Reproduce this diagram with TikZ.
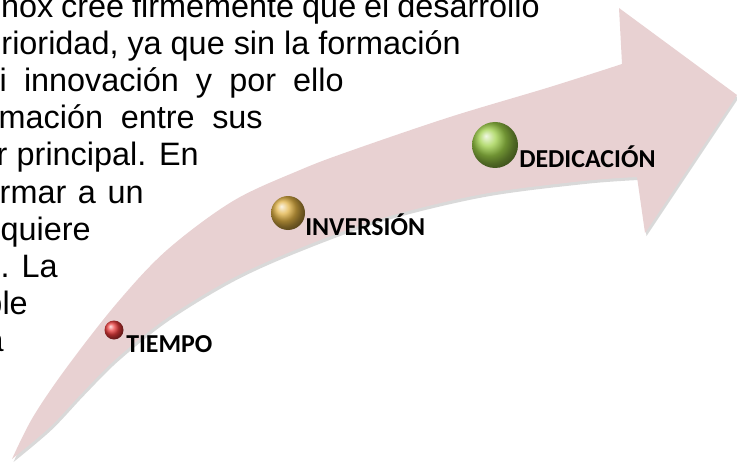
\documentclass[tikz,border=0pt]{standalone}
\usepackage{fontspec}
\setmainfont{Liberation Sans}
\newfontfamily\labelfont{Carlito}
\usepackage{xcolor}

\definecolor{arrowpink}{RGB}{232,209,210}
\definecolor{tiempored}{RGB}{235,60,60}
\definecolor{inversiongold}{RGB}{225,178,68}
\definecolor{dedicaciongreen}{RGB}{158,208,72}

% outline of the curved arrow (pixel units)
\newcommand{\swooshpath}{(12,459) -- plot[smooth, tension=0.55] coordinates {(12,459) (33,417) (67,367) (117,303) (167,250) (233,201) (300,170) (350,151) (450,117) (550,87) (622,64)} -- (619,8) -- (737,95) -- (645,233) -- (637,177) -- plot[smooth, tension=0.55] coordinates {(637,177) (583,181) (483,194) (383,218) (300,248) (233,278) (167,318) (117,358) (83,392) (50,427) (12,459)} -- cycle}

\begin{document}
\begin{tikzpicture}[x=0.75pt, y=-0.75pt]
    \useasboundingbox (0,0) rectangle (737,463);

    % Define styles for text, spheres and labels
    \tikzstyle{textline} = [anchor=base east, inner sep=0pt, font=\fontsize{24.3}{28}\selectfont]
    \tikzstyle{sphere} = [circle, inner sep=0pt, shading=ball]
    \tikzstyle{stagelabel} = [anchor=base west, inner sep=0pt, font=\labelfont\bfseries\fontsize{19.4}{22}\selectfont]

    % arrow
    \fill [black, opacity=0.15, shift={(1.5,3)}] \swooshpath;
    \fill [arrowpink] \swooshpath;

    % wrapped paragraph
    \node (line1) [textline] at (540,18) {\makebox[404pt][s]{nox cree firmemente que el desarrollo}};
    \node (line2) [textline] at (461,55) {prioridad, ya que sin la formación};
    \node (line3) [textline] at (344,92) {\makebox[258pt][s]{i innovación y por ello}};
    \node (line4) [textline] at (263,129) {\makebox[198pt][s]{mación entre sus}};
    \node (line5) [textline] at (199,166) {\makebox[151.5pt][s]{r principal. En}};
    \node (line6) [textline] at (144,203) {\makebox[108pt][s]{rmar a un}};
    \node (line7) [textline] at (91,240) {equiere};
    \node (line8) [textline] at (58,277) {n. La};
    \node (line9) [textline] at (28,314) {ble};
    \node (line10) [textline] at (4,351) {a};

    % spheres
    \node (tiempoball) [sphere, minimum size=14.25pt, ball color=tiempored] at (114,330) {};
    \node (inversionball) [sphere, minimum size=25.5pt, ball color=inversiongold] at (288,213) {};
    \node (dedicacionball) [sphere, minimum size=34.5pt, ball color=dedicaciongreen] at (495,145) {};

    % labels
    \node (tiempo) [stagelabel] at (126,352) {TIEMPO};
    \node (inversion) [stagelabel] at (305,235) {INVERSIÓN};
    \node (dedicacion) [stagelabel] at (519,167) {DEDICACIÓN};
\end{tikzpicture}
\end{document}
